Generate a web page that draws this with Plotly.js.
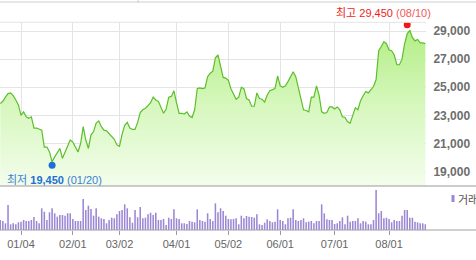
<!DOCTYPE html>
<html>
<head>
<meta charset="utf-8">
<script src="https://cdn.plot.ly/plotly-3.0.1.min.js"></script>
<style>html,body{margin:0;padding:0;background:#fff;}#chart{width:476px;height:260px;}</style>
</head>
<body>
<div id="chart"></div>
<script>
// Trading days (KRX) by month
const dec15 = [18,21,22,23,24,28,29,30];
const jan16 = [4,5,6,7,8,11,12,13,14,15,18,19,20,21,22,25,26,27,28,29];
const feb16 = [1,2,3,4,5,11,12,15,16,17,18,19,22,23,24,25,26,29];
const mar16 = [2,3,4,7,8,9,10,11,14,15,16,17,18,21,22,23,24,25,28,29,30,31];
const apr16 = [1,4,5,6,7,8,11,12,14,15,18,19,20,21,22,25,26,27,28,29];
const may16 = [2,3,4,9,10,11,12,13,16,17,18,19,20,23,24,25,26,27,30,31];
const jun16 = [1,2,3,7,8,9,10,13,14,15,16,17,20,21,22,23,24,27,28,29,30];
const jul16 = [1,4,5,6,7,8,11,12,13,14,15,18,19,20,21,22,25,26,27,28,29];
const aug16 = [1,2,3,4,5,8,9,10,11,12,16,17,18,19,22];

// Closing prices (won)
const closePrices = [
 23850,24000,24300,24550,24600,24400,24100,23750,
 23000,23250,22900,22800,22900,22100,22100,22050,21950,20750,20750,20400,19700,20050,20400,20650,19950,20400,20900,21250,
 21100,20750,20400,21000,22200,21250,20650,21600,21850,22450,22600,22200,21950,21900,21700,21500,21300,20900,
 20800,21650,22300,22500,22100,22000,22000,22500,23200,23400,23500,23700,23900,24300,24100,24000,23600,23150,23450,24300,24350,
 24750,23900,23150,23150,23100,23250,22950,22850,23400,24900,24950,24900,24950,25750,26000,26150,27100,27300,26400,25700,
 25650,25500,24900,24500,24150,24300,25000,24900,24200,24100,23650,23650,24600,24200,24150,23950,24450,24750,24850,24900,
 25800,25100,25000,25100,25400,25800,26100,25750,25000,24100,23400,23350,23250,24300,24300,25100,24450,23250,23150,23200,23600,
 23600,23450,23600,23400,22900,22850,22550,22450,23000,23550,23400,24050,24400,24700,24600,24800,25050,25550,27600,27900,28250,28100,27650,
 27600,27300,26600,26600,27000,28100,28800,29050,28550,28300,28400,28150,28150,28100,28100
];

// Volume (thousand shares)
const volumes = [
 100,90,67,250,57,67,57,77,83,100,90,90,100,130,90,67,217,183,100,177,217,167,133,150,150,143,167,167,110,90,90,90,310,200,243,210,143,217,133,117,110,67,100,123,117,157,
 190,200,257,217,127,73,200,127,230,117,123,157,173,150,173,100,100,110,50,123,110,207,117,110,67,67,60,90,83,77,207,100,90,83,167,110,90,267,177,217,190,143,110,107,110,117,
 57,143,117,140,133,130,123,157,57,50,73,107,90,77,83,207,100,90,57,117,123,207,100,90,100,117,77,83,90,67,90,90,257,167,107,100,100,60,67,90,127,57,143,83,90,
 90,117,67,90,83,57,57,100,400,167,190,117,123,110,77,100,90,90,143,200,200,123,123,83,77,67,67,57
];

const lowPoint = {date: '2016-01-20', value: 19450};
const highPoint = {date: '2016-08-10', value: 29450};
const priceTicks = [19000, 21000, 23000, 25000, 27000, 29000];
const tickDates = ['2016-01-04','2016-02-01','2016-03-02','2016-04-01','2016-05-02','2016-06-01','2016-07-01','2016-08-01'];
const tickLabels = ['01/04','02/01','03/02','04/01','05/02','06/01','07/01','08/01'];

function pad(n){ return (n < 10 ? '0' : '') + n; }
const dates = [];
[['2015-12', dec15],['2016-01', jan16],['2016-02', feb16],['2016-03', mar16],['2016-04', apr16],
 ['2016-05', may16],['2016-06', jun16],['2016-07', jul16],['2016-08', aug16]].forEach(function(m){
  m[1].forEach(function(d){ dates.push(m[0] + '-' + pad(d)); });
});

const W = 476, H = 260;
const px = x => x / W;
const py = y => 1 - y / H;

const xdom = [0, px(426)];
const xrange = [-0.1, 164.25];

const traces = [
  {
    type: 'scatter', mode: 'lines', x: dates, y: closePrices,
    xaxis: 'x', yaxis: 'y',
    line: {color: '#5cbf2a', width: 1.2},
    fill: 'tozeroy',
    fillgradient: {type: 'vertical', start: 17980, stop: 29620,
      colorscale: [[0, '#f3fdec'], [0.5, '#d6f7bd'], [1, '#b0ed80']]},
    hoverinfo: 'skip'
  },
  {
    type: 'scatter', mode: 'markers', x: [lowPoint.date], y: [lowPoint.value],
    xaxis: 'x', yaxis: 'y', marker: {color: '#1f6fd6', size: 7}, hoverinfo: 'skip'
  },
  {
    type: 'scatter', mode: 'markers', x: [highPoint.date], y: [highPoint.value],
    xaxis: 'x', yaxis: 'y', marker: {color: '#f41515', size: 7}, hoverinfo: 'skip'
  },
  {
    type: 'bar', x: dates, y: volumes, xaxis: 'x2', yaxis: 'y2',
    marker: {color: '#9c87d4', line: {width: 0}}, width: 0.6, hoverinfo: 'skip'
  }
];

const fontMain = 'Liberation Sans, Arial, "Noto Sans CJK KR", sans-serif';

const layout = {
  width: W, height: H,
  margin: {l: 0, r: 0, t: 0, b: 0},
  paper_bgcolor: '#ffffff', plot_bgcolor: 'rgba(0,0,0,0)',
  showlegend: false,
  font: {family: fontMain},
  xaxis: {
    type: 'category', domain: xdom, range: xrange, anchor: 'y',
    tickvals: tickDates, showticklabels: false, ticks: '',
    showgrid: true, gridcolor: '#e4e4e4', gridwidth: 1,
    zeroline: false, showline: false, fixedrange: true
  },
  yaxis: {
    domain: [py(186), py(22.3)], range: [17980, 29620], anchor: 'x', side: 'right',
    tickvals: priceTicks, tickformat: ',d',
    ticks: 'outside', ticklen: 4, tickcolor: 'rgba(0,0,0,0)',
    tickfont: {family: fontMain, size: 12, color: '#6e6e6e', weight: 'bold'},
    showgrid: true, gridcolor: '#e4e4e4', gridwidth: 1,
    zeroline: false, showline: false, fixedrange: true
  },
  xaxis2: {
    type: 'category', domain: xdom, range: xrange, anchor: 'y2',
    tickvals: tickDates, ticktext: tickLabels,
    ticks: 'outside', ticklen: 4, tickcolor: '#9a9a9a', tickwidth: 1,
    tickfont: {family: fontMain, size: 11, color: '#666666'},
    showgrid: false, zeroline: false, showline: false, fixedrange: true
  },
  yaxis2: {
    domain: [py(230), py(186)], range: [0, 440], anchor: 'x2',
    visible: false, fixedrange: true
  },
  shapes: [
    {type: 'line', xref: 'paper', yref: 'paper', x0: 0, x1: 1, y0: py(2), y1: py(2), line: {color: '#cfcfcf', width: 1}},
    {type: 'line', xref: 'paper', yref: 'paper', x0: px(138), x1: px(138), y0: py(0), y1: py(3), line: {color: '#cfcfcf', width: 1}},
    {type: 'line', xref: 'paper', yref: 'paper', x0: xdom[0], x1: xdom[1], y0: py(22.3), y1: py(22.3), line: {color: '#e4e4e4', width: 1}},
    {type: 'line', xref: 'paper', yref: 'paper', x0: 0, x1: 1, y0: py(186), y1: py(186), line: {color: '#999999', width: 1}},
    {type: 'line', xref: 'paper', yref: 'paper', x0: 0, x1: 1, y0: py(230), y1: py(230), line: {color: '#a0a0a0', width: 1}},
    {type: 'rect', xref: 'paper', yref: 'paper', x0: px(451.5), x1: px(454.5), y0: py(202), y1: py(195), line: {width: 0}, fillcolor: '#9c87d4'}
  ],
  annotations: [
    {
      xref: 'x', yref: 'y', x: lowPoint.date, y: lowPoint.value,
      text: '<span style="color:#3a7fd8">최저</span> <b>19,450</b> <span style="color:#3a7fd8">(01/20)</span>',
      showarrow: false, xanchor: 'center', yanchor: 'top', yshift: -7, xshift: 2,
      font: {family: fontMain, size: 11, color: '#1f6fd6'}
    },
    {
      xref: 'x', yref: 'y', x: highPoint.date, y: highPoint.value,
      text: '최고 29,450 <span style="color:#f25a5a">(08/10)</span>',
      showarrow: false, xanchor: 'center', yanchor: 'bottom', yshift: 4, xshift: -23.5,
      font: {family: fontMain, size: 11, color: '#f01a1a'}
    },
    {
      xref: 'paper', yref: 'paper', x: px(456), y: py(199),
      text: '거래량', showarrow: false, xanchor: 'left', yanchor: 'middle',
      font: {family: '"Noto Sans CJK KR", sans-serif', size: 11, color: '#555555'}
    }
  ]
};

Plotly.newPlot('chart', traces, layout, {staticPlot: true, displayModeBar: false});
</script>
</body>
</html>
